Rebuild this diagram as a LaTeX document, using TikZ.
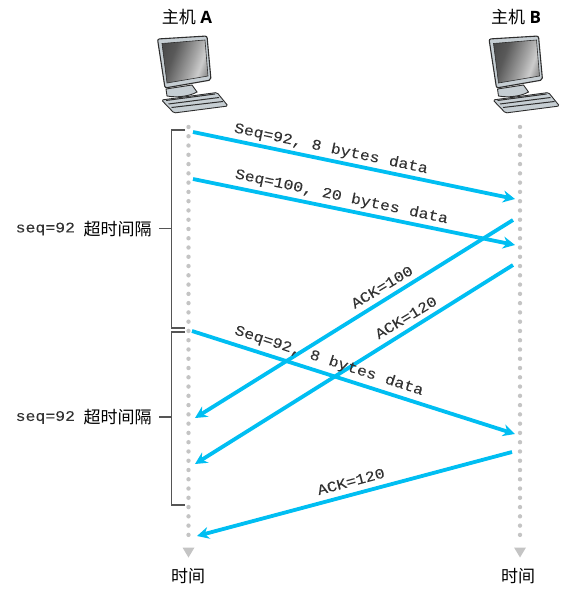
\documentclass[tikz,border=0pt]{standalone}
\usepackage{fontspec}
\setmainfont{Open Sans}
\setmonofont[FakeStretch=1.12,FakeBold=0.05]{Liberation Mono}
\newfontfamily\cjkfont{Noto Sans CJK SC}
\usetikzlibrary{arrows.meta,positioning,calc}
\definecolor{tcpcyan}{HTML}{00BEF2}
\definecolor{tcpdot}{HTML}{C4C4C4}
\definecolor{tcpbrace}{HTML}{555555}
\definecolor{tcptext}{HTML}{333333}
\definecolor{pcbody}{HTML}{C6CED3}
\definecolor{pcedge}{HTML}{2E2E2E}
\pgfdeclarehorizontalshading{pcscreen}{100bp}{
  color(0bp)=(black!80); color(35bp)=(black!65); color(58bp)=(black!35);
  color(68bp)=(black!20); color(78bp)=(black!45); color(100bp)=(black!50)}
\tikzset{
  msgarr/.style={-{Stealth[length=12pt,width=12pt]}, line width=3.8pt, tcpcyan},
  msglabel/.style={font=\ttfamily\fontsize{14.7}{15}\selectfont, text=tcptext, inner sep=0pt},
  cjklabel/.style={font=\cjkfont\fontsize{17}{18}\selectfont, inner sep=0pt},
  hostlabel/.style={font=\fontsize{17}{18}\selectfont, inner sep=0pt},
  bracket/.style={draw=tcpbrace, line width=1.2pt},
  computer/.pic={
    \draw[pcedge, fill=pcbody, line width=0.9pt, rounded corners=1.5pt]
      (3.5,100) -- (59,92.5) -- (70,106) -- (16,113) -- cycle;
    \draw[pcedge, line width=1pt] (8,100.5) -- (57,94) (10.5,104) -- (61,97.5) (13.5,107.5) -- (65,101.5);
    \draw[pcedge, fill=pcbody, line width=0.9pt] (8,89) -- (9,96) .. controls (20,98) and (32,96) .. (39,92)
      -- (34,85) -- cycle;
    \draw[pcedge, fill=pcbody, line width=1.1pt, rounded corners=2pt]
      (-0.5,39) -- (49,36) -- (53,80) -- (7,88) -- cycle;
    \shade[shading=pcscreen, shading angle=-20, draw=pcedge, line width=0.6pt]
      (4,43.5) -- (47,40) -- (50,76) -- (9,83) -- cycle;
  },
}
\begin{document}
\begin{tikzpicture}[x=1pt, y=-1pt]
    \useasboundingbox (0,0) rectangle (579,607);
    % hosts
    \node[hostlabel] (hostA) at (187,17) {{\cjkfont 主机} \textbf{A}};
    \node[hostlabel] (hostB) at (516,17) {{\cjkfont 主机} \textbf{B}};
    \pic at (158,0) {computer};
    \pic at (489.5,0) {computer};
    % time lines
    \foreach \x in {188.5,520} {
      \foreach \n in {0,...,44} {
        \fill[tcpdot] (\x,127+9.27*\n) circle (2.2pt);
      }
      \fill[tcpdot] (\x-6,547.5) -- (\x+6,547.5) -- (\x,557.5) -- cycle;
    }
    \node[cjklabel] (timeA) at (188,576) {时间};
    \node[cjklabel] (timeB) at (518,576) {时间};
    % brackets
    \draw[bracket] (185,130) -- (171.5,130) -- (171.5,328) -- (185,328);
    \draw[bracket] (185,332) -- (171.5,332) -- (171.5,505) -- (185,505);
    \coordinate (topbr) at (171.5,228.5);
    \coordinate (botbr) at (171.5,417);
    \draw[bracket] (topbr) -- ++(-12.5,0);
    \draw[bracket] (botbr) -- ++(-12.5,0);
    \node[msglabel, anchor=west] (seqA) at (15.5,229) {seq=92};
    \node[cjklabel, anchor=west] (gapA) at (83.5,229) {超时间隔};
    \node[msglabel, anchor=west] (seqB) at (15.5,417.5) {seq=92};
    \node[cjklabel, anchor=west] (gapB) at (83.5,417.5) {超时间隔};
    % messages
    \coordinate (s1) at (193,132);   \coordinate (r1) at (515,199);
    \coordinate (s2) at (193,179);   \coordinate (r2) at (515,245);
    \coordinate (s3) at (513,220);   \coordinate (r3) at (195,418);
    \coordinate (s4) at (513,265);   \coordinate (r4) at (195,464);
    \coordinate (s5) at (192,331);   \coordinate (r5) at (515,434);
    \coordinate (s6) at (512,452);   \coordinate (r6) at (197,536);
    \foreach \m in {1,...,6} {
      \draw[msgarr] (s\m) -- (r\m);
    }
    \node[msglabel, rotate=-12] (seq1) at (331,149) {Seq=92, 8 bytes data};
    \node[msglabel, rotate=-12] (seq2) at (341.5,197) {Seq=100, 20 bytes data};
    \node[msglabel, rotate=31] (ack1) at (382,287) {ACK=100};
    \node[msglabel, rotate=31] (ack2) at (406,317.5) {ACK=120};
    \node[msglabel, rotate=-18] (seq3) at (329,361) {Seq=92, 8 bytes data};
    \node[msglabel, rotate=15] (ack3) at (351,481.5) {ACK=120};
  \end{tikzpicture}
\end{document}
